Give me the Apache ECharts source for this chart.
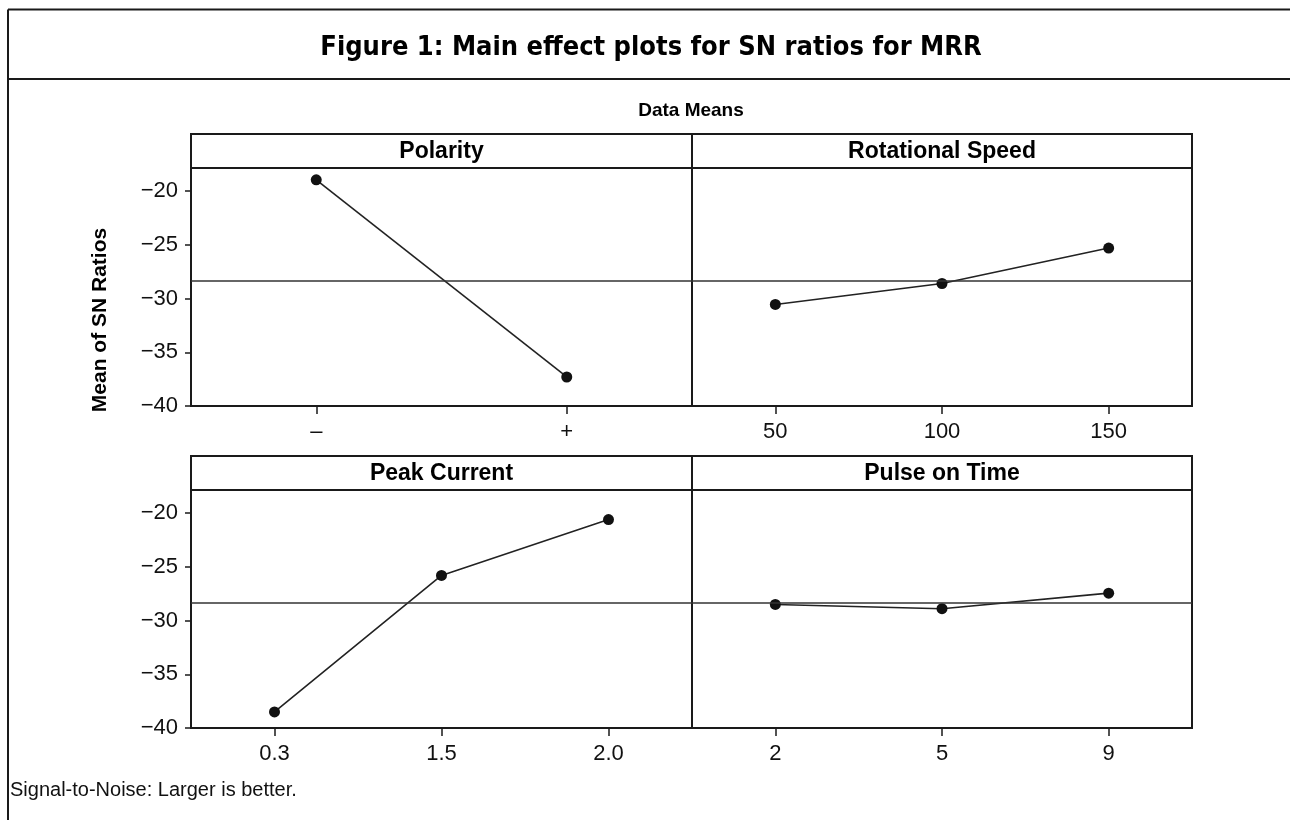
<!DOCTYPE html>
<html>
<head>
<meta charset="utf-8">
<title>Main effect plots for SN ratios for MRR</title>
<script src="https://cdn.jsdelivr.net/npm/echarts@6/dist/echarts.min.js"></script>
<style>
  html, body { margin: 0; padding: 0; background: #fff; }
  #main { width: 1290px; height: 820px; }
</style>
</head>
<body>
<div id="main"></div>
<script>
// values
const factorNames = ['Polarity', 'Rotational Speed', 'Peak Current', 'Pulse on Time'];
const polarityLevels = ['\u2013', '+'];
const polaritySN = [-18.95, -37.3];
const speedLevels = ['50', '100', '150'];
const speedSN = [-30.55, -28.6, -25.3];
const currentLevels = ['0.3', '1.5', '2.0'];
const currentSN = [-38.5, -25.8, -20.6];
const pulseLevels = ['2', '5', '9'];
const pulseSN = [-28.5, -28.9, -27.45];
const grandMean = -28.3;
const yTicks = [-40, -35, -30, -25, -20];

const levels = [polarityLevels, speedLevels, currentLevels, pulseLevels];
const means = [polaritySN, speedSN, currentSN, pulseSN];

const sans = "'Liberation Sans', Arial, sans-serif";
const ink = '#1a1a1a';

// panel boxes: plot area + header strip on top
const panels = [
  { left: 191, top: 168, width: 501, height: 238, head: 134 },
  { left: 692, top: 168, width: 500, height: 238, head: 134 },
  { left: 191, top: 490, width: 501, height: 238, head: 456 },
  { left: 692, top: 490, width: 500, height: 238, head: 456 }
];

let grids = [], xAxes = [], yAxes = [], series = [], graphics = [];

panels.forEach((p, i) => {
  grids.push({
    left: p.left, top: p.top, width: p.width, height: p.height,
    show: true, borderColor: ink, borderWidth: 2, backgroundColor: 'transparent'
  });
  xAxes.push({
    type: 'category', gridIndex: i, data: levels[i], boundaryGap: true,
    axisLine: { show: false },
    axisTick: { show: true, alignWithLabel: true, length: 8, lineStyle: { color: ink, width: 1.5 } },
    axisLabel: { color: '#111', fontSize: 22, fontFamily: sans, margin: 15 },
    splitLine: { show: false }
  });
  const leftSide = (i % 2 === 0);
  yAxes.push({
    type: 'value', gridIndex: i, min: -40, max: -17.85,
    axisLine: { show: false },
    axisTick: { show: leftSide, length: 6, customValues: yTicks, lineStyle: { color: ink, width: 1.5 } },
    axisLabel: {
      show: leftSide, customValues: yTicks, color: '#111', fontSize: 22, fontFamily: sans, margin: 13,
      formatter: v => (v < 0 ? '\u2212' : '') + Math.abs(v)
    },
    splitLine: { show: false }
  });
  series.push({
    type: 'line', xAxisIndex: i, yAxisIndex: i, data: means[i],
    symbol: 'circle', symbolSize: 11,
    itemStyle: { color: '#111' },
    lineStyle: { color: '#222', width: 1.6 },
    markLine: {
      silent: true, symbol: 'none',
      label: { show: false },
      lineStyle: { color: '#333', width: 1.6, type: 'solid' },
      data: [{ yAxis: grandMean }]
    },
    z: 3
  });
  // header strip
  graphics.push({
    type: 'rect', z: 10,
    shape: { x: p.left, y: p.head, width: p.width, height: p.top - p.head },
    style: { fill: '#fff', stroke: ink, lineWidth: 2 }
  });
  graphics.push({
    type: 'text', z: 11,
    x: p.left + p.width / 2, y: p.head + (p.top - p.head) / 2 + 1,
    style: {
      text: factorNames[i], fill: '#000', font: 'bold 23px ' + sans,
      textAlign: 'center', textVerticalAlign: 'middle'
    }
  });
});

// outer frame of the figure box
graphics.push(
  { type: 'line', shape: { x1: 8, y1: 9.5, x2: 1290, y2: 9.5 }, style: { stroke: ink, lineWidth: 2 } },
  { type: 'line', shape: { x1: 8, y1: 9.5, x2: 8, y2: 820 }, style: { stroke: ink, lineWidth: 2 } },
  { type: 'line', shape: { x1: 8, y1: 79, x2: 1290, y2: 79 }, style: { stroke: ink, lineWidth: 2 } },
  {
    type: 'text', x: 651, y: 48,
    style: {
      text: 'Figure 1: Main effect plots for SN ratios for MRR', fill: '#000',
      font: "bold 27px 'DejaVu Sans Condensed', 'DejaVu Sans', sans-serif",
      textAlign: 'center', textVerticalAlign: 'middle'
    }
  },
  {
    type: 'text', x: 691, y: 111,
    style: {
      text: 'Data Means', fill: '#000', font: 'bold 19px ' + sans,
      textAlign: 'center', textVerticalAlign: 'middle'
    }
  },
  {
    type: 'text', x: 100, y: 320, rotation: Math.PI / 2,
    style: {
      text: 'Mean of SN Ratios', fill: '#000', font: 'bold 21px ' + sans,
      textAlign: 'center', textVerticalAlign: 'middle'
    }
  },
  {
    type: 'text', x: 10, y: 790,
    style: {
      text: 'Signal-to-Noise: Larger is better.', fill: '#111', font: '20px ' + sans,
      textAlign: 'left', textVerticalAlign: 'middle'
    }
  }
);

const chart = echarts.init(document.getElementById('main'));
chart.setOption({
  animation: false,
  backgroundColor: '#fff',
  grid: grids,
  xAxis: xAxes,
  yAxis: yAxes,
  series: series,
  graphic: graphics
});
</script>
</body>
</html>
